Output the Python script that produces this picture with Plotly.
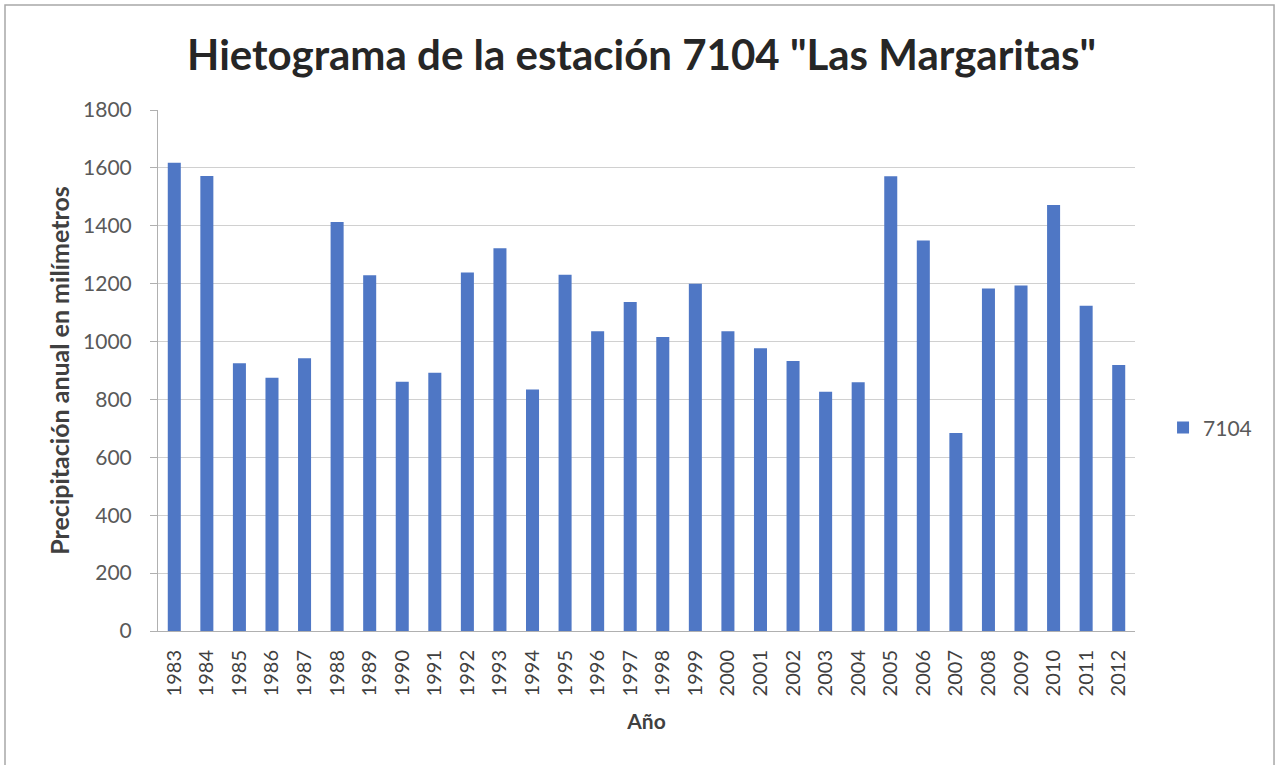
import plotly.graph_objects as go

years = [str(y) for y in range(1983, 2013)]
precip = [1618, 1572, 925, 875, 942, 1413, 1229, 861, 892, 1239,
          1322, 834, 1231, 1036, 1137, 1016, 1200, 1036, 977, 933,
          827, 859, 1571, 1349, 684, 1183, 1194, 1472, 1124, 919]
series_name = "7104"
y_ticks = [0, 200, 400, 600, 800, 1000, 1200, 1400, 1600, 1800]

FONT = "Lato"

fig = go.Figure()
fig.add_trace(go.Bar(x=years, y=precip, name=series_name,
                     marker=dict(color="#4F77C5", line=dict(width=0))))

fig.update_layout(
    width=1278, height=765,
    paper_bgcolor="white", plot_bgcolor="white",
    margin=dict(l=158, r=143, t=110, b=134),
    bargap=0.6,
    showlegend=True,
    title=dict(text='<b>Hietograma de la estación 7104 "Las Margaritas"</b>',
               x=0.502, xanchor="center", y=0.928, yanchor="middle",
               font=dict(family=FONT, size=42, color="#262626")),
    legend=dict(x=1.0287, y=0.39, xanchor="left", yanchor="middle",
                font=dict(family=FONT, size=21, color="#595959"),
                bgcolor="rgba(0,0,0,0)"),
    shapes=[dict(type="rect", xref="paper", yref="paper",
                 x0=-0.1566, x1=1.1423, y0=-0.267, y1=1.2015,
                 line=dict(color="#a8a8a8", width=1.5))],
)
fig.update_xaxes(
    type="category", tickangle=-90,
    tickfont=dict(family=FONT, size=20, color="#404040"),
    ticklabelstandoff=10,
    showline=True, linecolor="#b0b0b0", linewidth=1,
    ticks="", showgrid=False,
    title=dict(text="<b>Año</b>", font=dict(family=FONT, size=21, color="#404040"),
               standoff=18),
)
fig.update_yaxes(
    range=[0, 1800], tickvals=y_ticks,
    tickfont=dict(family=FONT, size=21, color="#595959"),
    ticklabelstandoff=14,
    showline=True, linecolor="#b0b0b0", linewidth=1,
    ticks="outside", ticklen=7, tickcolor="#b0b0b0",
    showgrid=True, gridcolor="#d0d0d0", gridwidth=1,
    zeroline=False,
    title=dict(text="<b>Precipitación anual en milímetros</b>",
               font=dict(family=FONT, size=25, color="#404040"), standoff=6),
)

fig.write_html("out.html", config={"displayModeBar": False},
               post_script="document.body.style.margin='0';")
